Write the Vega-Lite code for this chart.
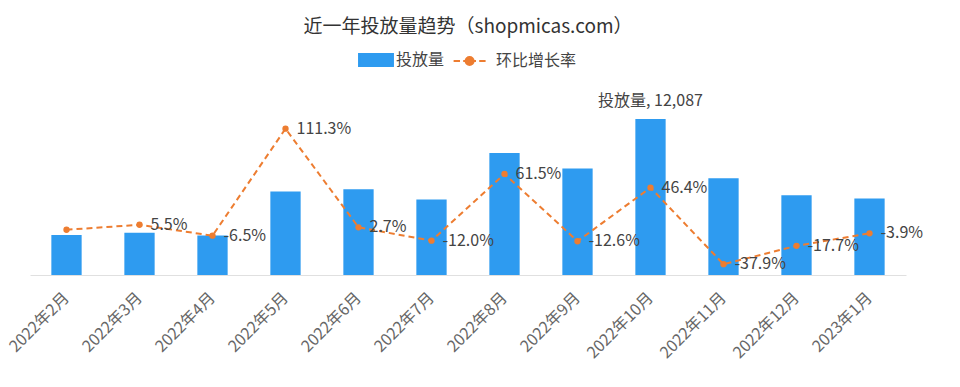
{
  "$schema": "https://vega.github.io/schema/vega-lite/v6.json",
  "width": 876,
  "height": 180,
  "autosize": {"type": "none"},
  "padding": {"left": 30, "top": 95, "right": 54, "bottom": 112},
  "background": "white",
  "config": {
    "view": {"stroke": null},
    "font": "Noto Sans CJK SC",
    "text": {"font": "Noto Sans CJK SC"},
    "legend": {"layout": {"top": {"anchor": "middle"}}}
  },
  "title": {
    "text": "近一年投放量趋势（shopmicas.com）",
    "fontSize": 19,
    "fontWeight": "normal",
    "color": "#333333",
    "font": "Noto Sans CJK SC",
    "anchor": "middle",
    "offset": 6
  },
  "data": {
    "values": [
      {"month": "2022年2月", "volume": 3105, "growth": 0, "growthText": ""},
      {"month": "2022年3月", "volume": 3276, "growth": 5.5, "growthText": "5.5%"},
      {"month": "2022年4月", "volume": 3063, "growth": -6.5, "growthText": "-6.5%"},
      {"month": "2022年5月", "volume": 6472, "growth": 111.3, "growthText": "111.3%"},
      {"month": "2022年6月", "volume": 6647, "growth": 2.7, "growthText": "2.7%"},
      {"month": "2022年7月", "volume": 5849, "growth": -12.0, "growthText": "-12.0%"},
      {"month": "2022年8月", "volume": 9446, "growth": 61.5, "growthText": "61.5%"},
      {"month": "2022年9月", "volume": 8256, "growth": -12.6, "growthText": "-12.6%"},
      {"month": "2022年10月", "volume": 12087, "growth": 46.4, "growthText": "46.4%"},
      {"month": "2022年11月", "volume": 7506, "growth": -37.9, "growthText": "-37.9%"},
      {"month": "2022年12月", "volume": 6177, "growth": -17.7, "growthText": "-17.7%"},
      {"month": "2023年1月", "volume": 5936, "growth": -3.9, "growthText": "-3.9%"}
    ]
  },
  "encoding": {
    "x": {
      "field": "month",
      "type": "ordinal",
      "sort": null,
      "scale": {"paddingInner": 0, "paddingOuter": 0},
      "axis": {
        "title": null,
        "labelAngle": -45,
        "labelAlign": "right",
        "labelBaseline": "middle",
        "labelFontSize": 16,
        "labelColor": "#666666",
        "labelFont": "Noto Sans CJK SC",
        "labelPadding": 20,
        "ticks": false,
        "domainColor": "#E0E0E0",
        "domainWidth": 1,
        "grid": false
      }
    }
  },
  "layer": [
    {
      "layer": [
        {
          "mark": {"type": "bar", "width": {"band": 0.415}},
          "encoding": {
            "y": {
              "field": "volume",
              "type": "quantitative",
              "scale": {"domain": [0, 13947], "nice": false},
              "axis": null
            },
            "color": {
              "datum": "投放量",
              "scale": {"domain": ["投放量", "环比增长率"], "range": ["#2E9BF0", "#ED7D31"]},
              "legend": {
                "title": null,
                "orient": "top",
                "direction": "horizontal",
                "offset": 25,
                "labelFontSize": 16,
                "labelColor": "#444444",
                "labelFont": "Noto Sans CJK SC",
                "labelOffset": 3,
                "columnPadding": 4,
                "symbolSize": 1024,
                "encode": {
                  "symbols": {
                    "update": {
                      "shape": {"signal": "datum.value === '投放量' ? 'M-1.06,-0.375H1.06V0.375H-1.06Z' : 'M-1.4,0H-1.0M-0.8,0H0.0M0.2,0H0.6M-0.15,0A0.25,0.25,0,1,1,-0.65,0A0.25,0.25,0,1,1,-0.15,0Z'"},
                      "fill": {"signal": "datum.value === '投放量' ? '#2E9BF0' : '#ED7D31'"},
                      "stroke": {"signal": "datum.value === '投放量' ? 'transparent' : '#ED7D31'"},
                      "strokeWidth": {"value": 2},
                      "opacity": {"value": 1},
                      "fillOpacity": {"value": 1},
                      "strokeDash": {"value": []}
                    }
                  }
                }
              }
            }
          }
        },
        {
          "transform": [{"filter": {"field": "month", "equal": "2022年10月"}}],
          "mark": {"type": "text", "baseline": "bottom", "dy": -10, "fontSize": 16, "color": "#444444", "font": "Noto Sans CJK SC"},
          "encoding": {
            "y": {"field": "volume", "type": "quantitative", "scale": {"domain": [0, 13947], "nice": false}, "axis": null},
            "text": {"value": "投放量, 12,087"}
          }
        }
      ]
    },
    {
      "layer": [
        {
          "mark": {"type": "line", "strokeDash": [6, 4], "strokeWidth": 2},
          "encoding": {
            "y": {"field": "growth", "type": "quantitative", "scale": {"domain": [-49.8, 148.4], "nice": false, "zero": false}, "axis": null},
            "color": {"datum": "环比增长率"}
          }
        },
        {
          "mark": {"type": "circle", "size": 40, "opacity": 1},
          "encoding": {
            "y": {"field": "growth", "type": "quantitative", "scale": {"domain": [-49.8, 148.4], "nice": false, "zero": false}, "axis": null},
            "color": {"datum": "环比增长率"}
          }
        },
        {
          "mark": {"type": "text", "align": "left", "baseline": "middle", "dx": 11, "fontSize": 16, "color": "#444444", "font": "Noto Sans CJK SC"},
          "encoding": {
            "y": {"field": "growth", "type": "quantitative", "scale": {"domain": [-49.8, 148.4], "nice": false, "zero": false}, "axis": null},
            "text": {"field": "growthText"}
          }
        }
      ]
    }
  ],
  "resolve": {"scale": {"y": "independent"}}
}
